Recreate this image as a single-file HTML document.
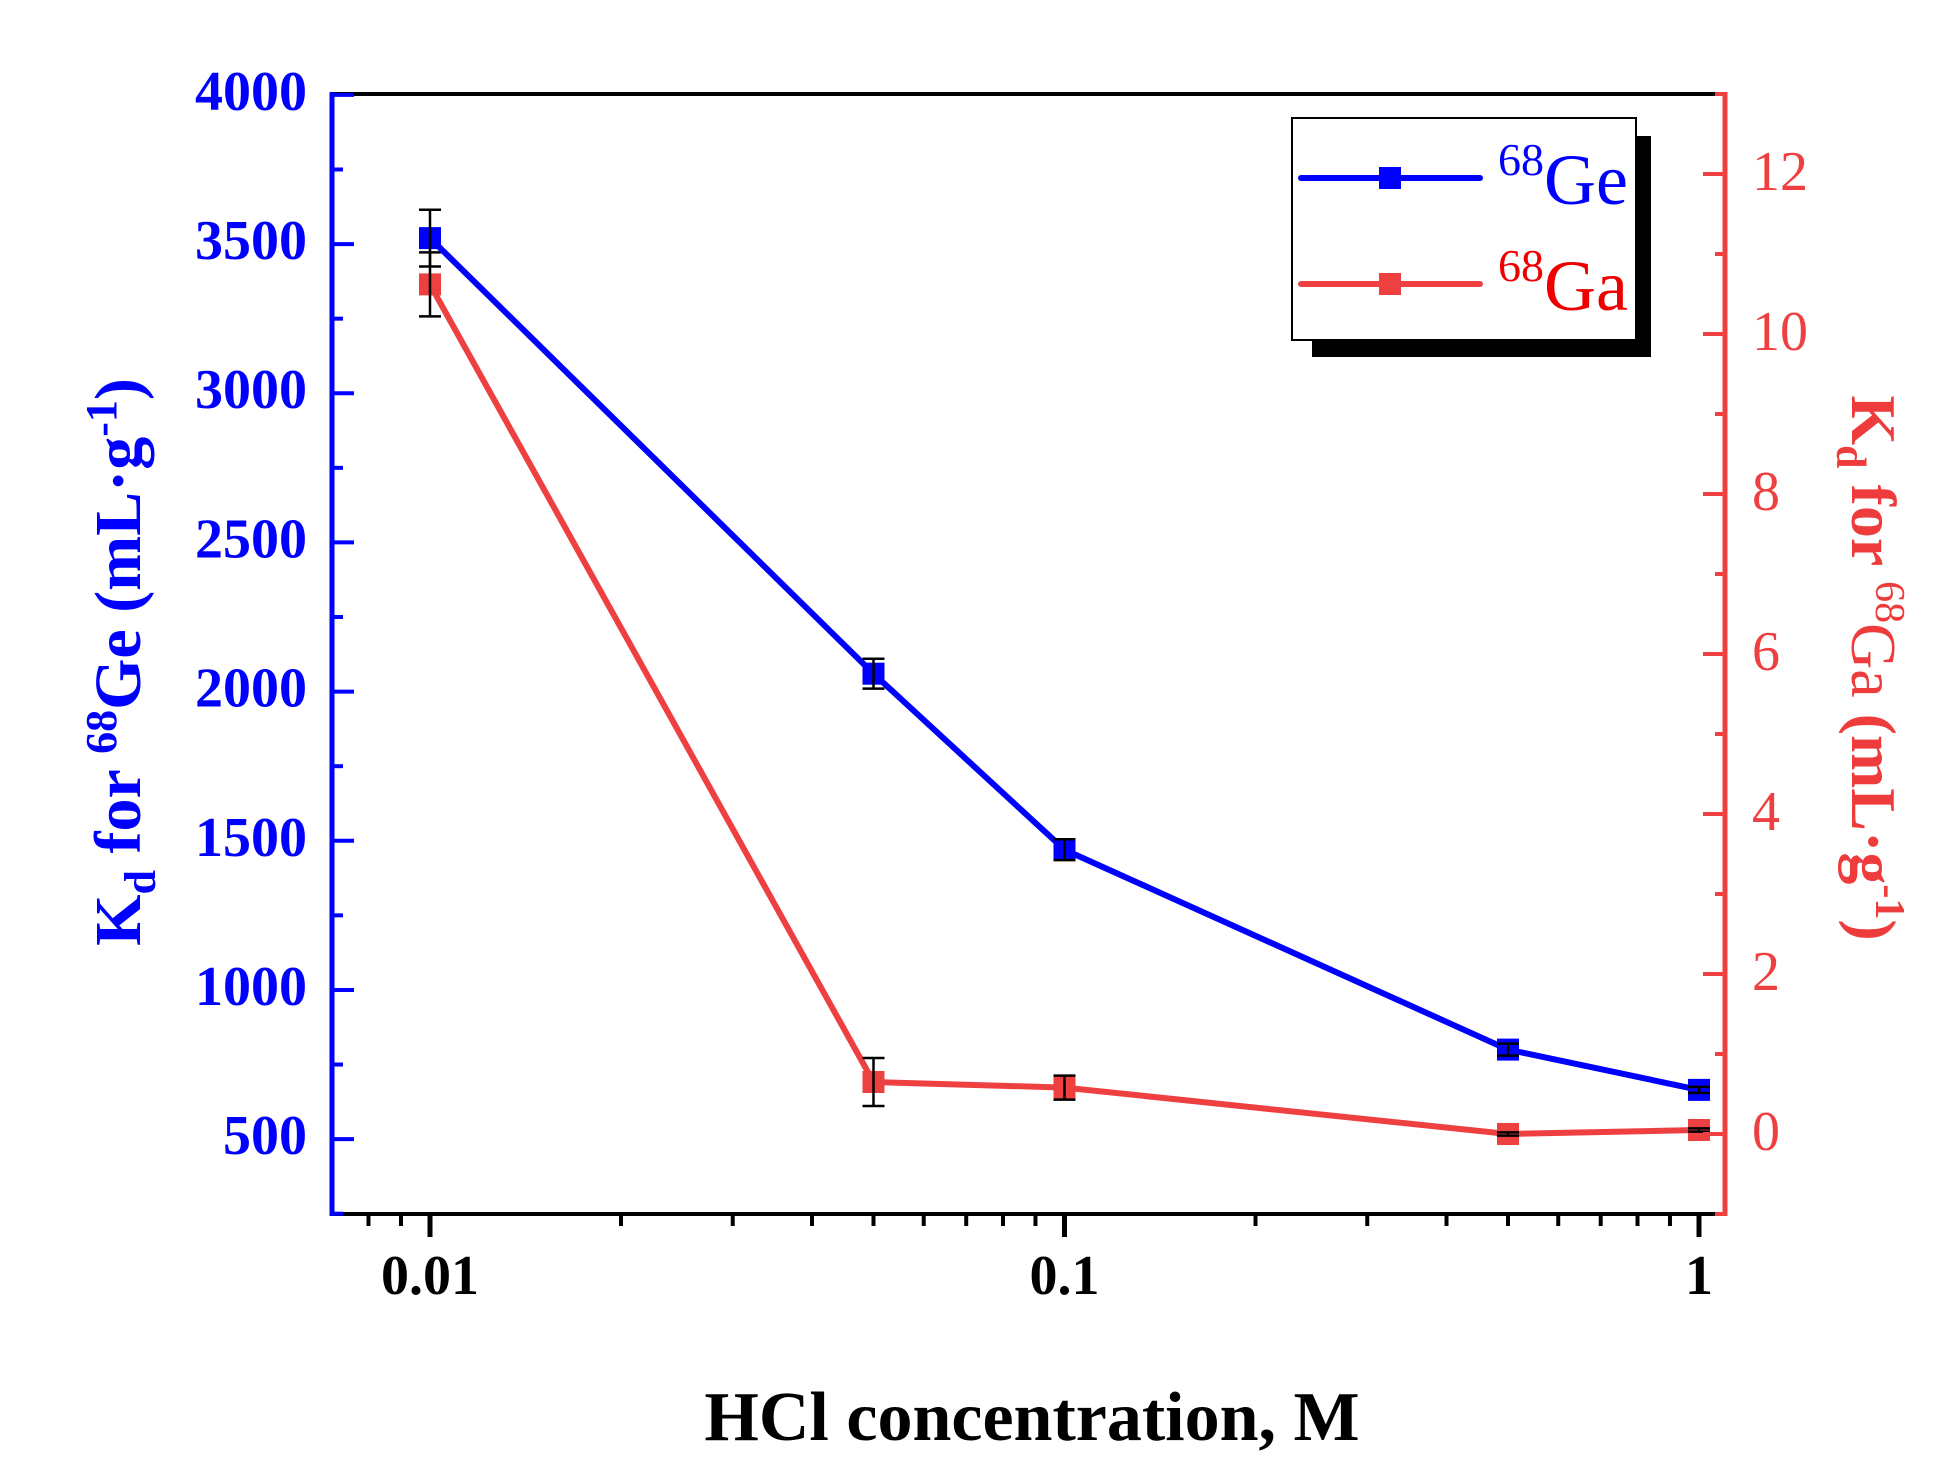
<!DOCTYPE html>
<html><head><meta charset="utf-8"><style>
html,body{margin:0;padding:0;background:#fff;}
svg{display:block;}
</style></head><body>
<svg id="chart" xmlns="http://www.w3.org/2000/svg" width="1951" height="1484" viewBox="0 0 1951 1484" font-family="'Liberation Serif', serif">
<rect width="1951" height="1484" fill="#fff"/>
<g id="series"></g>
<g id="axes"></g>
<text x="1032" y="1440" text-anchor="middle" font-size="70" font-weight="bold" fill="#000">HCl concentration, M</text>
<text transform="translate(140,662) rotate(-90)" text-anchor="middle" font-size="66" font-weight="bold" fill="#0000ff">K<tspan font-size="44" dy="15">d</tspan><tspan dy="-15"> for </tspan><tspan font-size="44" dy="-24">68</tspan><tspan dy="24">Ge (mL·g</tspan><tspan font-size="44" dy="-24">-1</tspan><tspan dy="24">)</tspan></text>
<text transform="translate(1852,668) rotate(90)" text-anchor="middle" font-size="64" font-weight="bold" fill="#ee3b3b">K<tspan font-size="42" dy="15">d</tspan><tspan dy="-15"> for </tspan><tspan font-size="42" dy="-24" font-weight="normal">68</tspan><tspan dy="24" font-weight="normal">Ga </tspan><tspan dy="0">(mL·g</tspan><tspan font-size="42" dy="-24">-1</tspan><tspan dy="24">)</tspan></text>
<g>
<rect x="1312" y="136" width="339" height="221" fill="#000"/>
<rect x="1292" y="118" width="344" height="222" fill="#fff" stroke="#000" stroke-width="2"/>
<g>
<line x1="1301" y1="178" x2="1480" y2="178" stroke="#0000ff" stroke-width="6" stroke-linecap="round"/>
<rect x="1379" y="167" width="22" height="22" fill="#0000ff"/>
<text x="1498" y="204" font-size="72" fill="#0000ff"><tspan font-size="46" dy="-29">68</tspan><tspan dy="29">Ge</tspan></text>
</g>
<g>
<line x1="1301" y1="284" x2="1480" y2="284" stroke="#ee4040" stroke-width="6" stroke-linecap="round"/>
<rect x="1379" y="273" width="22" height="22" fill="#ee4040"/>
<text x="1498" y="310" font-size="72" fill="#ee0000"><tspan font-size="46" dy="-29">68</tspan><tspan dy="29">Ga</tspan></text>
</g>
</g>
</svg>
<script>
const concentrations = [0.01, 0.05, 0.1, 0.5, 1];
const geValues = [3520, 2060, 1470, 800, 665];
const geErrors = [95, 50, 35, 20, 10];
const gaValues = [10.62, 0.65, 0.58, 0.0, 0.05];
const gaErrors = [0.4, 0.3, 0.15, 0.02, 0.02];
const leftTicks = [500, 1000, 1500, 2000, 2500, 3000, 3500, 4000];
const rightTicks = [0, 2, 4, 6, 8, 10, 12];
const xTicks = [0.01, 0.1, 1];
const xTickLabels = ['0.01', '0.1', '1'];

const X0 = 332, X1 = 1725, Y0 = 94, Y1 = 1214;
const xLogMin = Math.log10(0.01) - 98/634.5, xLogMax = 0 + 26/634.5;
function xs(v){ return X0 + (Math.log10(v) - xLogMin) / (xLogMax - xLogMin) * (X1 - X0); }
const lMin = 249, lMax = 4003;
function yl(v){ return Y1 - (v - lMin) / (lMax - lMin) * (Y1 - Y0); }
const rMin = -1, rMax = 13;
function yr(v){ return Y1 - (v - rMin) / (rMax - rMin) * (Y1 - Y0); }

const NS = 'http://www.w3.org/2000/svg';
function mk(tag, attrs, parent){ const e = document.createElementNS(NS, tag); for (const k in attrs) e.setAttribute(k, attrs[k]); parent.appendChild(e); return e; }
const axes = document.getElementById('axes');
const series = document.getElementById('series');

let a;
a = mk('line', {x1:X0-2, y1:Y0, x2:X1, y2:Y0, stroke:'#000', 'stroke-width':4}, axes);


a = mk('line', {x1:X0-2, y1:Y1, x2:X1, y2:Y1, stroke:'#000', 'stroke-width':4}, axes);


a = mk('line', {x1:X0, y1:Y0-2, x2:X0, y2:Y1+2, stroke:'#0000ff', 'stroke-width':5}, axes);


a = mk('line', {x1:X1, y1:Y0-2, x2:X1, y2:Y1+2, stroke:'#ee4040', 'stroke-width':5}, axes);



for (let v = 250; v <= 4000; v += 250) {
  const major = v % 500 === 0;
  const t = mk('line', {x1:X0, y1:yl(v), x2:X0 + (major ? 22 : 11), y2:yl(v), stroke:'#0000ff', 'stroke-width':4}, axes);
  
  
}
leftTicks.forEach(v => {
  const t = mk('text', {x:307, y:yl(v)+15, 'text-anchor':'end', 'font-size':56, 'font-weight':'bold', fill:'#0000ff'}, axes);
  t.textContent = v;
  
  
});
for (let v = -1; v <= 13; v += 1) {
  const major = v % 2 === 0;
  const t = mk('line', {x1:X1, y1:yr(v), x2:X1 - (major ? 22 : 10), y2:yr(v), stroke:'#ee4040', 'stroke-width':4}, axes);
  
  
}
rightTicks.forEach(v => {
  const t = mk('text', {x:1752, y:yr(v)+16, 'font-size':56, fill:'#ee4040'}, axes);
  t.textContent = v;
  
  
});
const minorX = [0.008,0.009,0.02,0.03,0.04,0.05,0.06,0.07,0.08,0.09,0.2,0.3,0.4,0.5,0.6,0.7,0.8,0.9];
minorX.forEach(v => {
  const t = mk('line', {x1:xs(v), y1:Y1, x2:xs(v), y2:Y1+12, stroke:'#000', 'stroke-width':4}, axes);
  
  
});
xTicks.forEach((v, i) => {
  const t = mk('line', {x1:xs(v), y1:Y1, x2:xs(v), y2:Y1+23, stroke:'#000', 'stroke-width':5}, axes);
  
  
  const l = mk('text', {x:xs(v), y:1294, 'text-anchor':'middle', 'font-size':56, 'font-weight':'bold', fill:'#000'}, axes);
  l.textContent = xTickLabels[i];
  
  
});

function drawSeries(vals, errs, yf, color, name) {
  const pts = concentrations.map((c, i) => xs(c) + ',' + yf(vals[i])).join(' ');
  const pl = mk('polyline', {points:pts, fill:'none', stroke:color, 'stroke-width':6, 'stroke-linejoin':'round'}, series);
  
  
  concentrations.forEach((c, i) => {
    const x = xs(c), y = yf(vals[i]);
    const m = mk('rect', {x:x-11, y:y-11, width:22, height:22, fill:color}, series);
    
    
    const yt = yf(vals[i] + errs[i]), yb = yf(vals[i] - errs[i]);
    const g = mk('path', {d:`M${x},${yt}V${yb}M${x-11},${yt}H${x+11}M${x-11},${yb}H${x+11}`, stroke:'#000', 'stroke-width':2.5, fill:'none'}, series);
    
    
  });
}
drawSeries(gaValues, gaErrors, yr, '#ee4040', 'ga68');
drawSeries(geValues, geErrors, yl, '#0000ff', 'ge68');
</script>
</body></html>
